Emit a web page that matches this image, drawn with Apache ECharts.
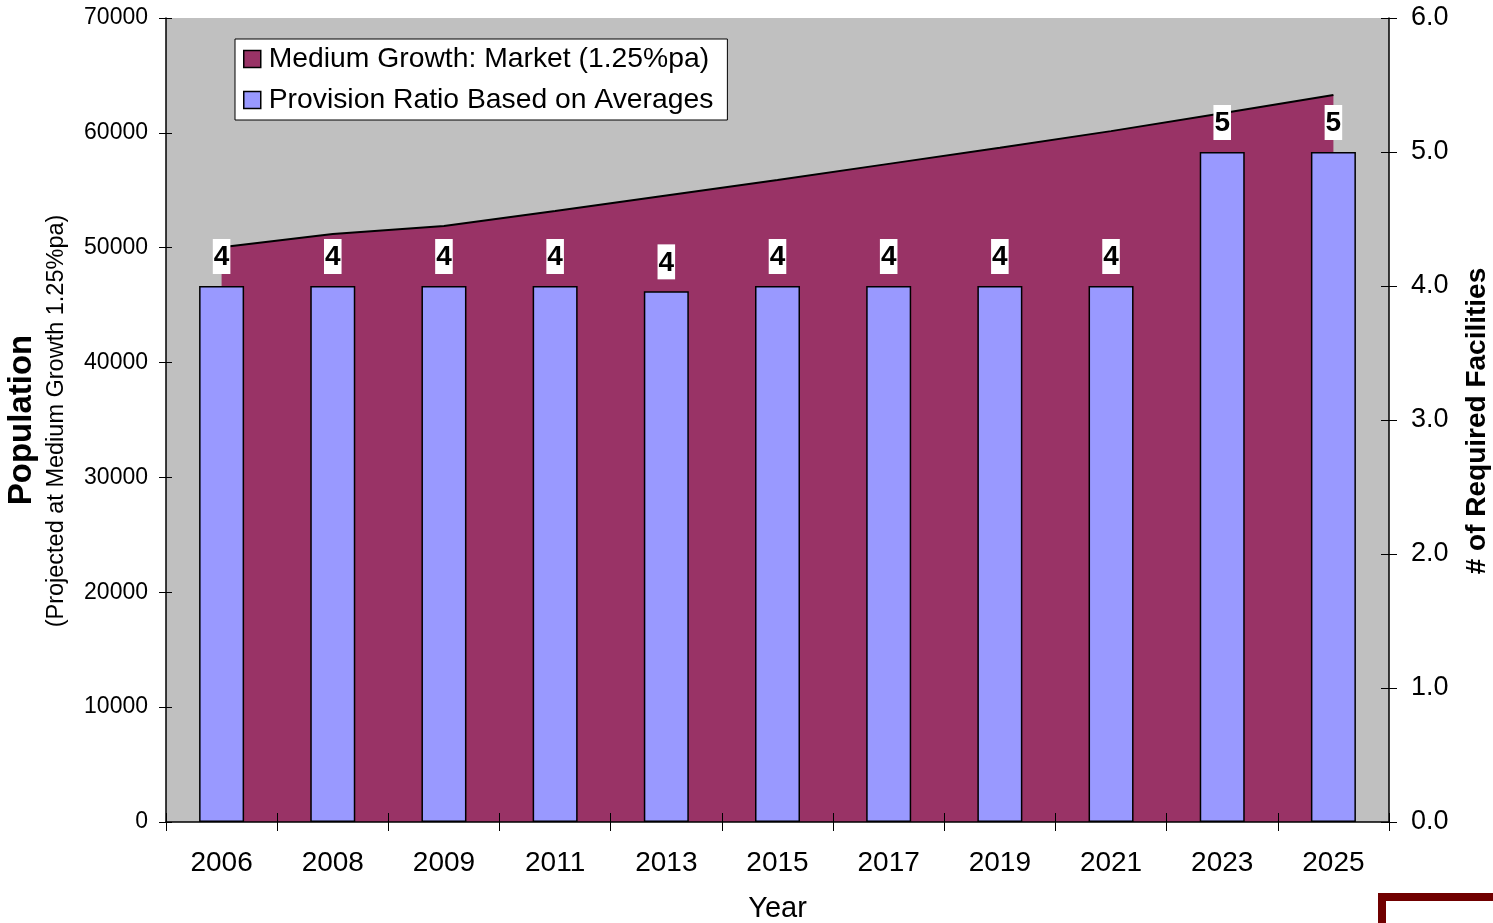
<!DOCTYPE html>
<html>
<head>
<meta charset="utf-8">
<script src="https://cdn.jsdelivr.net/npm/echarts@6/dist/echarts.min.js"></script>
<style>
  html, body { margin: 0; padding: 0; background: #fff; }
  #chart { width: 1493px; height: 923px; }
</style>
</head>
<body>
<div id="chart"></div>
<script>
const years = ['2006', '2008', '2009', '2011', '2013', '2015', '2017', '2019', '2021', '2023', '2025'];
const population = [50050, 51200, 51900, 53200, 54550, 55900, 57300, 58700, 60150, 61700, 63300];
const facilities = [4, 4, 4, 4, 3.96, 4, 4, 4, 4, 5, 5];

const FONT = 'Liberation Sans, Arial, sans-serif';
const chart = echarts.init(document.getElementById('chart'));

// extra axes only draw the inner half of the crossing tick marks
const hiddenLine = { show: true, lineStyle: { color: 'rgba(0,0,0,0)', width: 0 } };
const innerTicks = len => ({ show: true, inside: true, length: len, lineStyle: { color: '#000', width: 1 } });

const option = {
  backgroundColor: '#fff',
  animation: false,
  textStyle: { fontFamily: FONT, color: '#000' },
  grid: {
    left: 166, right: 104, top: 18, bottom: 101,
    outerBoundsMode: 'none',
    containLabel: false,
    show: true,
    backgroundColor: '#c0c0c0',
    borderWidth: 0
  },
  legend: {
    orient: 'vertical',
    left: 235, top: 39,
    padding: [6, 14, 6, 8],
    itemGap: 13,
    itemWidth: 17, itemHeight: 17,
    backgroundColor: '#fff',
    borderColor: '#000',
    borderWidth: 1,
    textStyle: { fontSize: 28.3, color: '#000', fontFamily: FONT, padding: [0, 0, 0, 3] },
    data: [
      { name: 'Medium Growth: Market (1.25%pa)', icon: 'rect', itemStyle: { color: '#993366', borderColor: '#000', borderWidth: 1.5 } },
      { name: 'Provision Ratio Based on Averages', icon: 'rect', itemStyle: { color: '#9999ff', borderColor: '#000', borderWidth: 1.5 } }
    ]
  },
  xAxis: [
    {
      type: 'category',
      data: years,
      boundaryGap: true,
      position: 'bottom',
      name: 'Year',
      nameLocation: 'middle',
      nameGap: 72,
      nameTextStyle: { fontSize: 29, color: '#000', fontFamily: FONT },
      axisLine: { lineStyle: { color: '#000', width: 1.5 } },
      axisTick: { show: true, length: 9, lineStyle: { color: '#000' } },
      axisLabel: { fontSize: 28, color: '#000', margin: 27, fontFamily: FONT },
      splitLine: { show: false },
      z: 10
    },
    {
      type: 'category',
      data: years,
      boundaryGap: true,
      position: 'bottom',
      axisLine: hiddenLine,
      axisTick: innerTicks(9),
      axisLabel: { show: false },
      splitLine: { show: false },
      z: 10
    }
  ],
  yAxis: [
    {
      type: 'value',
      min: 0, max: 70000, interval: 10000,
      position: 'left',
      axisLine: { show: true, lineStyle: { color: '#000', width: 1.5 } },
      axisTick: { show: true, length: 7, lineStyle: { color: '#000' } },
      axisLabel: { fontSize: 23, color: '#000', margin: 18, fontFamily: FONT, formatter: v => String(v) },
      splitLine: { show: false },
      z: 10
    },
    {
      type: 'value',
      min: 0, max: 6, interval: 1,
      position: 'right',
      axisLine: { show: true, lineStyle: { color: '#000', width: 1.5 } },
      axisTick: { show: true, length: 8, lineStyle: { color: '#000' } },
      axisLabel: { fontSize: 27, color: '#000', margin: 22, fontFamily: FONT, formatter: v => v.toFixed(1) },
      splitLine: { show: false },
      z: 10
    },
    {
      type: 'value',
      min: 0, max: 70000, interval: 10000,
      position: 'left',
      axisLine: hiddenLine,
      axisTick: innerTicks(6),
      axisLabel: { show: false },
      splitLine: { show: false },
      z: 10
    },
    {
      type: 'value',
      min: 0, max: 6, interval: 1,
      position: 'right',
      axisLine: hiddenLine,
      axisTick: innerTicks(8),
      axisLabel: { show: false },
      splitLine: { show: false },
      z: 10
    }
  ],
  series: [
    {
      name: 'Medium Growth: Market (1.25%pa)',
      type: 'line',
      yAxisIndex: 0,
      data: population,
      symbol: 'none',
      lineStyle: { color: '#000', width: 2 },
      itemStyle: { color: '#993366' },
      areaStyle: { color: '#993366', opacity: 1 },
      z: 1
    },
    {
      name: 'Provision Ratio Based on Averages',
      type: 'bar',
      yAxisIndex: 1,
      data: facilities,
      barWidth: 45,
      itemStyle: { color: '#9999ff', borderColor: '#000', borderWidth: 1.5 },
      label: {
        show: true,
        position: 'top',
        distance: 12,
        formatter: p => Math.round(p.value),
        fontSize: 28,
        fontWeight: 'bold',
        fontFamily: FONT,
        color: '#000',
        backgroundColor: '#fff',
        padding: [5, 1, 3, 1],
        lineHeight: 27
      },
      z: 2
    }
  ],
  graphic: [
    {
      type: 'text',
      x: 22, y: 420,
      rotation: Math.PI / 2,
      style: { text: 'Population', font: 'bold 33px ' + FONT, fill: '#000', align: 'center', verticalAlign: 'middle' }
    },
    {
      type: 'text',
      x: 57, y: 421,
      rotation: Math.PI / 2,
      style: { text: '(Projected at Medium Growth 1.25%pa)', font: '23.5px ' + FONT, fill: '#000', align: 'center', verticalAlign: 'middle' }
    },
    {
      type: 'text',
      x: 1477, y: 421,
      rotation: Math.PI / 2,
      style: { text: '# of Required Facilities', font: 'bold 28px ' + FONT, fill: '#000', align: 'center', verticalAlign: 'middle' }
    },
    {
      type: 'rect',
      shape: { x: 1382, y: 897, width: 130, height: 50 },
      style: { fill: '#fff', stroke: '#700000', lineWidth: 8 }
    }
  ]
};

chart.setOption(option);
</script>
</body>
</html>
